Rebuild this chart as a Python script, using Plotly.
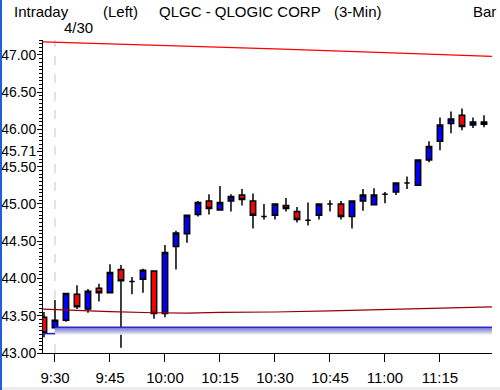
import plotly.graph_objects as go

# ---------------- data ----------------
DATE = "2009-04-30"
times = ["09:27", "09:30", "09:33", "09:36", "09:39", "09:42", "09:45", "09:48", "09:51", "09:54",
         "09:57", "10:00", "10:03", "10:06", "10:09", "10:12", "10:15", "10:18", "10:21", "10:24",
         "10:27", "10:30", "10:33", "10:36", "10:39", "10:42", "10:45", "10:48", "10:51", "10:54",
         "10:57", "11:00", "11:03", "11:06", "11:09", "11:12", "11:15", "11:18", "11:21", "11:24",
         "11:27"]
opens = [43.48, 43.34, 43.44, 43.79, 43.59, 43.87, 43.81, 44.12, 43.96, 43.99,
         44.10, 43.53, 44.43, 44.60, 44.86, 45.04, 44.92, 45.04, 45.12, 45.04,
         44.83, 44.85, 44.98, 44.90, 44.78, 44.85, 45.00, 45.00, 44.83, 45.04,
         44.99, 45.13, 45.16, 45.28, 45.25, 45.59, 45.84, 46.08, 46.19, 46.06,
         46.10]
highs = [43.55, 43.71, 43.81, 43.91, 43.86, 43.93, 44.19, 44.18, 44.02, 44.13,
         44.10, 44.45, 44.64, 44.85, 45.04, 45.13, 45.24, 45.13, 45.20, 45.14,
         45.00, 45.00, 45.08, 44.96, 45.02, 45.00, 45.05, 45.04, 45.04, 45.20,
         45.21, 45.16, 45.29, 45.37, 45.60, 45.84, 46.16, 46.24, 46.28, 46.16,
         46.19]
lows = [43.21, 43.33, 43.42, 43.59, 43.54, 43.69, 43.80, 43.07, 43.79, 43.81,
        43.46, 43.48, 44.12, 44.48, 44.83, 44.86, 44.92, 44.90, 44.98, 44.67,
        44.79, 44.79, 44.90, 44.75, 44.71, 44.79, 44.90, 44.79, 44.67, 44.91,
        44.98, 45.01, 45.12, 45.20, 45.24, 45.56, 45.72, 45.95, 45.99, 46.02,
        46.03]
closes = [43.27, 43.44, 43.80, 43.62, 43.83, 43.81, 44.08, 43.97, 43.96, 44.11,
          43.53, 44.35, 44.61, 44.85, 45.02, 44.94, 45.02, 45.10, 45.06, 44.85,
          44.83, 45.00, 44.94, 44.79, 44.78, 45.00, 45.00, 44.83, 45.04, 45.12,
          45.12, 45.13, 45.28, 45.28, 45.59, 45.77, 46.06, 46.14, 46.04, 46.10,
          46.07]

upper_times = ["09:24", "10:00", "10:30", "11:00", "11:30"]
upper_env = [47.18, 47.13, 47.08, 47.03, 46.98]
lower_times = ["09:24", "09:33", "09:45", "09:57", "10:06", "10:15", "10:30", "10:45", "11:00", "11:15", "11:30"]
lower_env = [43.595, 43.575, 43.555, 43.54, 43.535, 43.545, 43.55, 43.565, 43.58, 43.60, 43.62]

prev_close = 43.26
open_price = 43.345
session_start = "09:30"

y_ticks = [43.00, 43.50, 44.00, 44.50, 45.00, 45.50, 45.71, 46.00, 46.50, 47.00]
x_ticks = ["09:30", "09:45", "10:00", "10:15", "10:30", "10:45", "11:00", "11:15"]
x_tick_text = ["9:30", "9:45", "10:00", "10:15", "10:30", "10:45", "11:00", "11:15"]

# ---------------- helpers ----------------
def ts(t):
    return f"{DATE} {t}"

W, H = 500, 390
ML, MR, MT, MB = 43, 8, 40, 37
PW, PH = W - ML - MR, H - MT - MB

def px(x):
    return (x - ML) / PW

def py(y):
    return (H - MB - y) / PH

X_LEFT = ts("09:26:44")
X_RIGHT = ts("11:29:11")
FONT = "Liberation Sans, Arial, sans-serif"

fig = go.Figure()

# gap band between previous close and the open
fig.add_trace(go.Scatter(
    x=[ts(session_start), X_RIGHT, X_RIGHT, ts(session_start)],
    y=[open_price, open_price, prev_close - 0.015, prev_close - 0.015],
    mode="lines", fill="toself", line=dict(width=0),
    fillgradient=dict(type="vertical",
                      colorscale=[[0, "#f4f4fb"], [0.45, "#b4b4e6"], [1, "#7070d2"]]),
    hoverinfo="skip", showlegend=False))
fig.add_trace(go.Scatter(
    x=[ts(session_start), X_RIGHT], y=[open_price, open_price],
    mode="lines", line=dict(color="#2a2ac8", width=1.5),
    hoverinfo="skip", showlegend=False))
fig.add_trace(go.Scatter(
    x=[ts("09:24"), ts(session_start)], y=[prev_close, prev_close],
    mode="lines", line=dict(color="#1a1ae0", width=1.5),
    hoverinfo="skip", showlegend=False))

# envelope lines
fig.add_trace(go.Scatter(
    x=[ts(t) for t in upper_times], y=upper_env, mode="lines",
    line=dict(color="#ff0000", width=1.2), hoverinfo="skip", showlegend=False))
fig.add_trace(go.Scatter(
    x=[ts(t) for t in lower_times], y=lower_env, mode="lines",
    line=dict(color="#960000", width=1.2), hoverinfo="skip", showlegend=False))

# candles
fig.add_trace(go.Candlestick(
    x=[ts(t) for t in times], open=opens, high=highs, low=lows, close=closes,
    increasing=dict(fillcolor="#0000ff", line=dict(color="#000000", width=1.5)),
    decreasing=dict(fillcolor="#ff0000", line=dict(color="#000000", width=1.5)),
    whiskerwidth=0, showlegend=False))

# dashed session-start line
fig.add_shape(type="line", xref="x", yref="paper",
              x0=ts(session_start), x1=ts(session_start), y0=0, y1=1,
              line=dict(color="#c4c4c4", width=1, dash="dash"), layer="below")

# window frame bits
fig.add_shape(type="rect", xref="paper", yref="paper",
              x0=px(0), x1=px(2), y0=py(H), y1=py(0),
              fillcolor="#1f5fd8", line=dict(width=0))
fig.add_shape(type="rect", xref="paper", yref="paper",
              x0=px(2), x1=px(W), y0=py(H), y1=py(H - 3),
              fillcolor="#ececec", line=dict(width=0))

# header text
header = [("Intraday", 12, 11), ("(Left)", 101, 11), ("QLGC - QLOGIC CORP", 157, 11),
          ("(3-Min)", 332, 11), ("Bar", 471, 11), ("4/30", 62, 28)]
for txt, x, y in header:
    fig.add_annotation(text=txt, xref="paper", yref="paper", x=px(x), y=py(y),
                       xanchor="left", yanchor="middle", showarrow=False,
                       font=dict(family=FONT, size=15, color="#000000"))

fig.update_layout(
    width=W, height=H,
    margin=dict(l=ML, r=MR, t=MT, b=MB, pad=0, autoexpand=False),
    paper_bgcolor="#ffffff", plot_bgcolor="#ffffff",
    font=dict(family=FONT, size=15, color="#000000"),
    showlegend=False,
    xaxis=dict(type="date", range=[X_LEFT, X_RIGHT], rangeslider=dict(visible=False),
               automargin=False,
               tickmode="array", tickvals=[ts(t) for t in x_ticks], ticktext=x_tick_text,
               ticks="outside", ticklen=8, tickwidth=1, tickcolor="#000000",
               ticklabelstandoff=3,
               showline=True, linecolor="#000000", linewidth=1,
               showgrid=False, zeroline=False, fixedrange=True,
               tickfont=dict(family=FONT, size=15, color="#000000")),
    yaxis=dict(range=[43.0, 47.2], tickmode="array", tickvals=y_ticks,
               automargin=False,
               ticktext=[f"{v:.2f}" for v in y_ticks],
               ticks="outside", ticklen=5, tickwidth=1, tickcolor="#000000",
               ticklabelstandoff=-2,
               minor=dict(tickmode="linear", tick0=43.0, dtick=0.05, ticks="outside",
                          ticklen=3, tickwidth=1, tickcolor="#000000", showgrid=False),
               showline=True, linecolor="#000000", linewidth=1,
               showgrid=False, zeroline=False, fixedrange=True,
               tickfont=dict(family=FONT, size=14, color="#000000")),
)

fig.write_html("out.html", config={"displayModeBar": False},
               post_script="document.body.style.margin='0';document.body.style.padding='0';")
